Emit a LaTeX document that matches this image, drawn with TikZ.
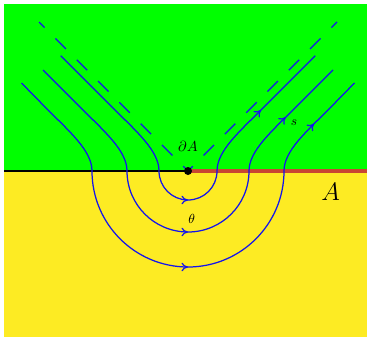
\documentclass[tikz,border=0pt]{standalone}
\usetikzlibrary{calc,decorations.markings,arrows.meta}
\definecolor{bggreen}{RGB}{0,255,0}
\definecolor{bgyellow}{RGB}{253,235,35}
\definecolor{edgered}{RGB}{200,70,50}
\definecolor{flowblue}{RGB}{20,20,235}
\tikzset{
  flow/.style={draw=flowblue, line width=0.85pt},
  midarrow/.style={postaction={decorate}, decoration={markings,
     mark=at position 0.5 with {\arrow[flowblue]{To[length=4.5pt,width=6pt]}}}},
  cone/.style={draw=flowblue, line width=0.85pt, dash pattern=on 10.1pt off 10.5pt, dash phase=5.5pt},
  lbl/.style={inner sep=0pt}
}
\begin{document}
\begin{tikzpicture}[x=0.684pt, y=-0.684pt]
\useasboundingbox (0,0) rectangle (367,338);
% regions
\fill[bggreen] (4,4) rectangle (367,171);
\fill[bgyellow] (4,171) rectangle (367,337);
% axis
\coordinate (O) at (188,171);
\coordinate (L) at (4,171);
\coordinate (R) at (367,171);
\draw[black, line width=1pt] (L) -- (O);
\draw[edgered, line width=2.2pt] (O) -- (R);
% light cone (dashed)
\coordinate (dl) at (39,22);
\coordinate (dr) at (337,22);
\draw[cone] (O) -- (dl);
\draw[cone] (O) -- (dr);
% axis crossings of flow lines
\coordinate (l1) at (159,171);
\coordinate (l2) at (127,171);
\coordinate (l3) at (92,171);
\coordinate (r1) at (217,171);
\coordinate (r2) at (249,171);
\coordinate (r3) at (284,171);
% free ends
\coordinate (el1) at (60.7,55.7);
\coordinate (el2) at (43,70);
\coordinate (el3) at (21.5,83);
\coordinate (er1) at (315.3,55.7);
\coordinate (er2) at (333,70);
\coordinate (er3) at (354.5,83);
% left upper branches
\foreach \p/\e in {l1/el1,l2/el2,l3/el3}{
  \draw[flow] (\p) .. controls ($(\p)+(0,-20)$) and ($(\p)+(-22,-39)$) .. ($(\p)+(-45,-62)$) -- (\e);
}
% right upper branches
\foreach \p/\e in {r1/er1,r2/er2,r3/er3}{
  \draw[flow, midarrow] (\p) .. controls ($(\p)+(0,-20)$) and ($(\p)+(22,-39)$) .. ($(\p)+(45,-62)$) -- (\e);
}
% lower arcs
\draw[flow, midarrow] (l1) arc[start angle=180, end angle=0, radius=29];
\draw[flow, midarrow] (l2) arc[start angle=180, end angle=0, radius=61];
\draw[flow, midarrow] (l3) arc[start angle=180, end angle=0, radius=96];
% entangling point
\fill[black] (O) circle[radius=4];
% labels
\node[lbl] (dA) at (188,146) {$\partial A$};
\node[lbl] (th) at (191.7,219.3) {\small$\theta$};
\node[lbl] (sl) at (294,122.5) {\small$s$};
\node[lbl] (Al) at (330.7,191.7) {\LARGE$A$};
\end{tikzpicture}
\end{document}
